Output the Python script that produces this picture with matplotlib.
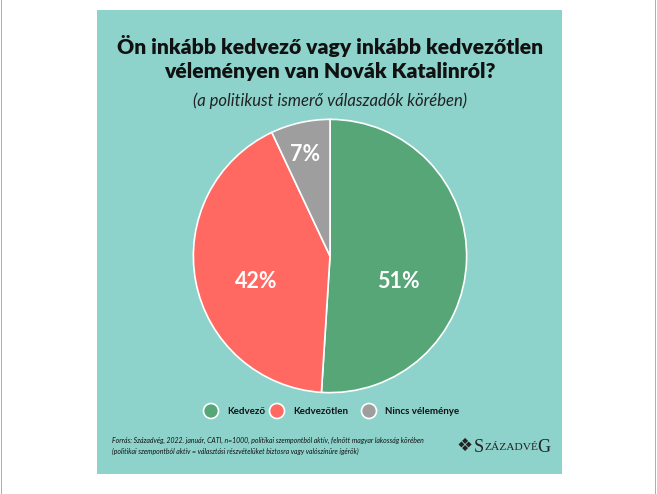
import matplotlib.pyplot as plt
from matplotlib.patches import Rectangle, Ellipse

# adatok
categories = ['Kedvező', 'Kedvezőtlen', 'Nincs véleménye']
values = [51, 42, 7]
labels = ['51%', '42%', '7%']
colors = ['#56a677', '#ff6961', '#9e9e9e']

title = 'Ön inkább kedvező vagy inkább kedvezőtlen\nvéleményen van Novák Katalinról?'
subtitle = '(a politikust ismerő válaszadók körében)'
source = ('Forrás: Századvég, 2022. január, CATI, n=1000, politikai szempontból aktív, felnőtt magyar lakosság körében\n'
          '(politikai szempontból aktív = választási részvételüket biztosra vagy valószínűre ígérők)')

W, H = 657, 494
fig = plt.figure(figsize=(W / 100, H / 100), dpi=100)
fig.patch.set_facecolor('white')

# teal panel
fig.patches.append(Rectangle((97 / W, 1 - 474 / H), (562 - 97) / W, (474 - 10) / H,
                             transform=fig.transFigure, facecolor='#8dd3cb', edgecolor='none', zorder=0))
# grey page edges
fig.patches.append(Rectangle((0.5 / W, 0), 1.5 / W, 1, transform=fig.transFigure,
                             facecolor='#a8b0c0', edgecolor='none', zorder=0))
fig.patches.append(Rectangle((654.5 / W, 0), 1.5 / W, 1, transform=fig.transFigure,
                             facecolor='#a8b0c0', edgecolor='none', zorder=0))

fig.text(330 / W, 1 - 58 / H, title, ha='center', va='center', fontsize=15.2,
         fontfamily='Lato', fontweight='heavy', color='#111111', linespacing=1.3)
fig.text(330 / W, 1 - 101 / H, subtitle, ha='center', va='center', fontsize=12,
         fontfamily='Lato', fontstyle='italic', color='#222222')

# pie
cx, cy, r = 330, 256, 138
ax = fig.add_axes([(cx - r) / W, 1 - (cy + r) / H, 2 * r / W, 2 * r / H])
ax.set_zorder(2)
ax.patch.set_visible(False)
wedges, _ = ax.pie(values, colors=colors, startangle=90, counterclock=False,
                   wedgeprops=dict(edgecolor='white', linewidth=1.2))
ax.set_aspect('equal')
ax.set_xlim(-1.01, 1.01)
ax.set_ylim(-1.01, 1.01)

label_pos = [(0.5, -0.19), (-0.54, -0.19), (-0.18, 0.74)]
for (x, y), t in zip(label_pos, labels):
    ax.text(x, y, t, ha='center', va='center', fontsize=15.5, fontfamily='Lato',
            fontweight='bold', color='white')

# legend
leg_x = [211, 277, 369]
for lx, c, name in zip(leg_x, colors, categories):
    fig.patches.append(Ellipse((lx / W, 1 - 411 / H), 15 / W, 15 / H, transform=fig.transFigure,
                               facecolor=c, edgecolor='white', linewidth=1.2, zorder=3))
    fig.text((lx + 16) / W, 1 - 411 / H, name, ha='left', va='center', fontsize=7,
             fontfamily='Lato', fontweight='bold', color='#111111')

# source
fig.text(112 / W, 1 - 446 / H, source, ha='left', va='center', fontsize=4.95,
         fontfamily='Lato', fontstyle='italic', color='#111111', linespacing=1.6)

# logo
fig.text(465 / W, 1 - 446 / H, '❖', ha='center', va='center', fontsize=13,
         fontfamily='DejaVu Sans', color='#222222')
fig.text(474 / W, 1 - 447 / H, 'S', ha='left', va='center', fontsize=13,
         fontfamily='Liberation Serif', color='#222222')
fig.text(484 / W, 1 - 447.5 / H, 'ZÁZADVÉ', ha='left', va='center', fontsize=8.2,
         fontfamily='Liberation Serif', color='#222222')
fig.text(537 / W, 1 - 447 / H, 'G', ha='left', va='center', fontsize=13,
         fontfamily='Liberation Serif', color='#222222')

fig.savefig('out.png', dpi=100, facecolor='white')
